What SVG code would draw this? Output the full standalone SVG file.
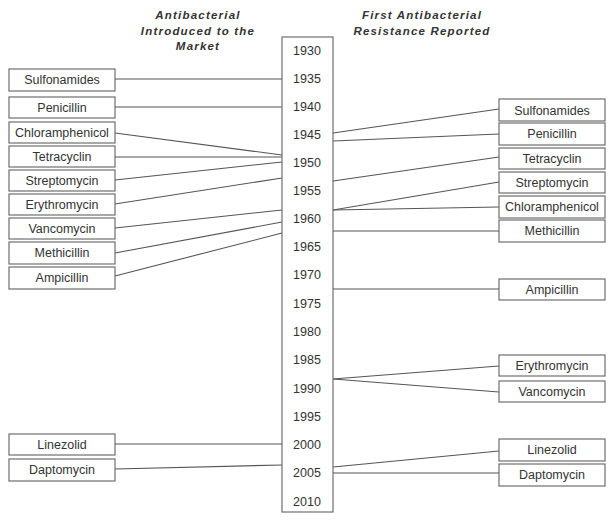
<svg xmlns="http://www.w3.org/2000/svg" width="614" height="522" viewBox="0 0 614 522">
<style>
.box{fill:#fff;stroke:#6e6e6e;stroke-width:1.2}
.t{font-family:"Liberation Sans",Arial,sans-serif;font-size:12.5px;fill:#333;text-anchor:middle}
.h{font-family:"Liberation Sans",Arial,sans-serif;font-size:11.5px;font-weight:bold;font-style:italic;fill:#333;text-anchor:middle;letter-spacing:1.2px}
.c{stroke:#555;stroke-width:1.1;fill:none}
</style>
<rect width="614" height="522" fill="#fff"/>
<g id="headers">
<text class="h" x="198" y="19">Antibacterial</text>
<text class="h" x="198" y="35">Introduced to the</text>
<text class="h" x="198" y="50">Market</text>
<text class="h" x="422" y="19">First Antibacterial</text>
<text class="h" x="422" y="35">Resistance Reported</text>
</g>
<g id="connectors">
<line class="c" x1="115" y1="79" x2="282" y2="79"/>
<line class="c" x1="115" y1="107" x2="282" y2="107"/>
<line class="c" x1="115" y1="133" x2="282" y2="155"/>
<line class="c" x1="115" y1="157" x2="282" y2="157"/>
<line class="c" x1="115" y1="180" x2="282" y2="162"/>
<line class="c" x1="115" y1="204" x2="282" y2="178"/>
<line class="c" x1="115" y1="228" x2="282" y2="210"/>
<line class="c" x1="115" y1="253" x2="282" y2="222"/>
<line class="c" x1="115" y1="276" x2="282" y2="233"/>
<line class="c" x1="115" y1="444" x2="282" y2="444"/>
<line class="c" x1="115" y1="469" x2="282" y2="465"/>
<line class="c" x1="333" y1="133" x2="499" y2="109"/>
<line class="c" x1="333" y1="141" x2="499" y2="134"/>
<line class="c" x1="333" y1="181" x2="499" y2="157"/>
<line class="c" x1="333" y1="210" x2="499" y2="182"/>
<line class="c" x1="333" y1="210" x2="499" y2="207"/>
<line class="c" x1="333" y1="231" x2="499" y2="231"/>
<line class="c" x1="333" y1="289" x2="499" y2="289"/>
<line class="c" x1="333" y1="379" x2="499" y2="366"/>
<line class="c" x1="333" y1="379" x2="499" y2="392"/>
<line class="c" x1="333" y1="467" x2="499" y2="451"/>
<line class="c" x1="333" y1="473" x2="499" y2="473"/>
</g>
<g id="timeline">
<rect class="box" x="282" y="37" width="51" height="475"/>
<text class="t" x="307" y="55">1930</text>
<text class="t" x="307" y="83">1935</text>
<text class="t" x="307" y="111">1940</text>
<text class="t" x="307" y="139">1945</text>
<text class="t" x="307" y="167">1950</text>
<text class="t" x="307" y="195">1955</text>
<text class="t" x="307" y="223">1960</text>
<text class="t" x="307" y="251">1965</text>
<text class="t" x="307" y="279">1970</text>
<text class="t" x="307" y="308">1975</text>
<text class="t" x="307" y="336">1980</text>
<text class="t" x="307" y="364">1985</text>
<text class="t" x="307" y="393">1990</text>
<text class="t" x="307" y="421">1995</text>
<text class="t" x="307" y="449">2000</text>
<text class="t" x="307" y="477">2005</text>
<text class="t" x="307" y="506">2010</text>
</g>
<g id="L-sulfonamides"><rect class="box" x="9" y="69" width="106" height="22"/><text class="t" x="62" y="84">Sulfonamides</text></g>
<g id="L-penicillin"><rect class="box" x="9" y="97" width="106" height="21"/><text class="t" x="62" y="112">Penicillin</text></g>
<g id="L-chloramphenicol"><rect class="box" x="9" y="122" width="106" height="21"/><text class="t" x="62" y="137">Chloramphenicol</text></g>
<g id="L-tetracyclin"><rect class="box" x="9" y="146" width="106" height="21"/><text class="t" x="62" y="161">Tetracyclin</text></g>
<g id="L-streptomycin"><rect class="box" x="9" y="170" width="106" height="21"/><text class="t" x="62" y="185">Streptomycin</text></g>
<g id="L-erythromycin"><rect class="box" x="9" y="194" width="106" height="21"/><text class="t" x="62" y="209">Erythromycin</text></g>
<g id="L-vancomycin"><rect class="box" x="9" y="218" width="106" height="21"/><text class="t" x="62" y="233">Vancomycin</text></g>
<g id="L-methicillin"><rect class="box" x="9" y="242" width="106" height="22"/><text class="t" x="62" y="257">Methicillin</text></g>
<g id="L-ampicillin"><rect class="box" x="9" y="267" width="106" height="22"/><text class="t" x="62" y="282">Ampicillin</text></g>
<g id="L-linezolid"><rect class="box" x="9" y="434" width="106" height="21"/><text class="t" x="62" y="449">Linezolid</text></g>
<g id="L-daptomycin"><rect class="box" x="9" y="459" width="106" height="22"/><text class="t" x="62" y="474">Daptomycin</text></g>
<g id="R-sulfonamides"><rect class="box" x="499" y="99" width="106" height="22"/><text class="t" x="552" y="115">Sulfonamides</text></g>
<g id="R-penicillin"><rect class="box" x="499" y="123" width="106" height="22"/><text class="t" x="552" y="138">Penicillin</text></g>
<g id="R-tetracyclin"><rect class="box" x="499" y="148" width="106" height="21"/><text class="t" x="552" y="163">Tetracyclin</text></g>
<g id="R-streptomycin"><rect class="box" x="499" y="172" width="106" height="21"/><text class="t" x="552" y="187">Streptomycin</text></g>
<g id="R-chloramphenicol"><rect class="box" x="499" y="196" width="106" height="22"/><text class="t" x="552" y="211">Chloramphenicol</text></g>
<g id="R-methicillin"><rect class="box" x="499" y="220" width="106" height="22"/><text class="t" x="552" y="235">Methicillin</text></g>
<g id="R-ampicillin"><rect class="box" x="499" y="279" width="106" height="21"/><text class="t" x="552" y="294">Ampicillin</text></g>
<g id="R-erythromycin"><rect class="box" x="499" y="355" width="106" height="21"/><text class="t" x="552" y="370">Erythromycin</text></g>
<g id="R-vancomycin"><rect class="box" x="499" y="381" width="106" height="21"/><text class="t" x="552" y="396">Vancomycin</text></g>
<g id="R-linezolid"><rect class="box" x="499" y="439" width="106" height="22"/><text class="t" x="552" y="454">Linezolid</text></g>
<g id="R-daptomycin"><rect class="box" x="499" y="464" width="106" height="22"/><text class="t" x="552" y="479">Daptomycin</text></g>
</svg>
